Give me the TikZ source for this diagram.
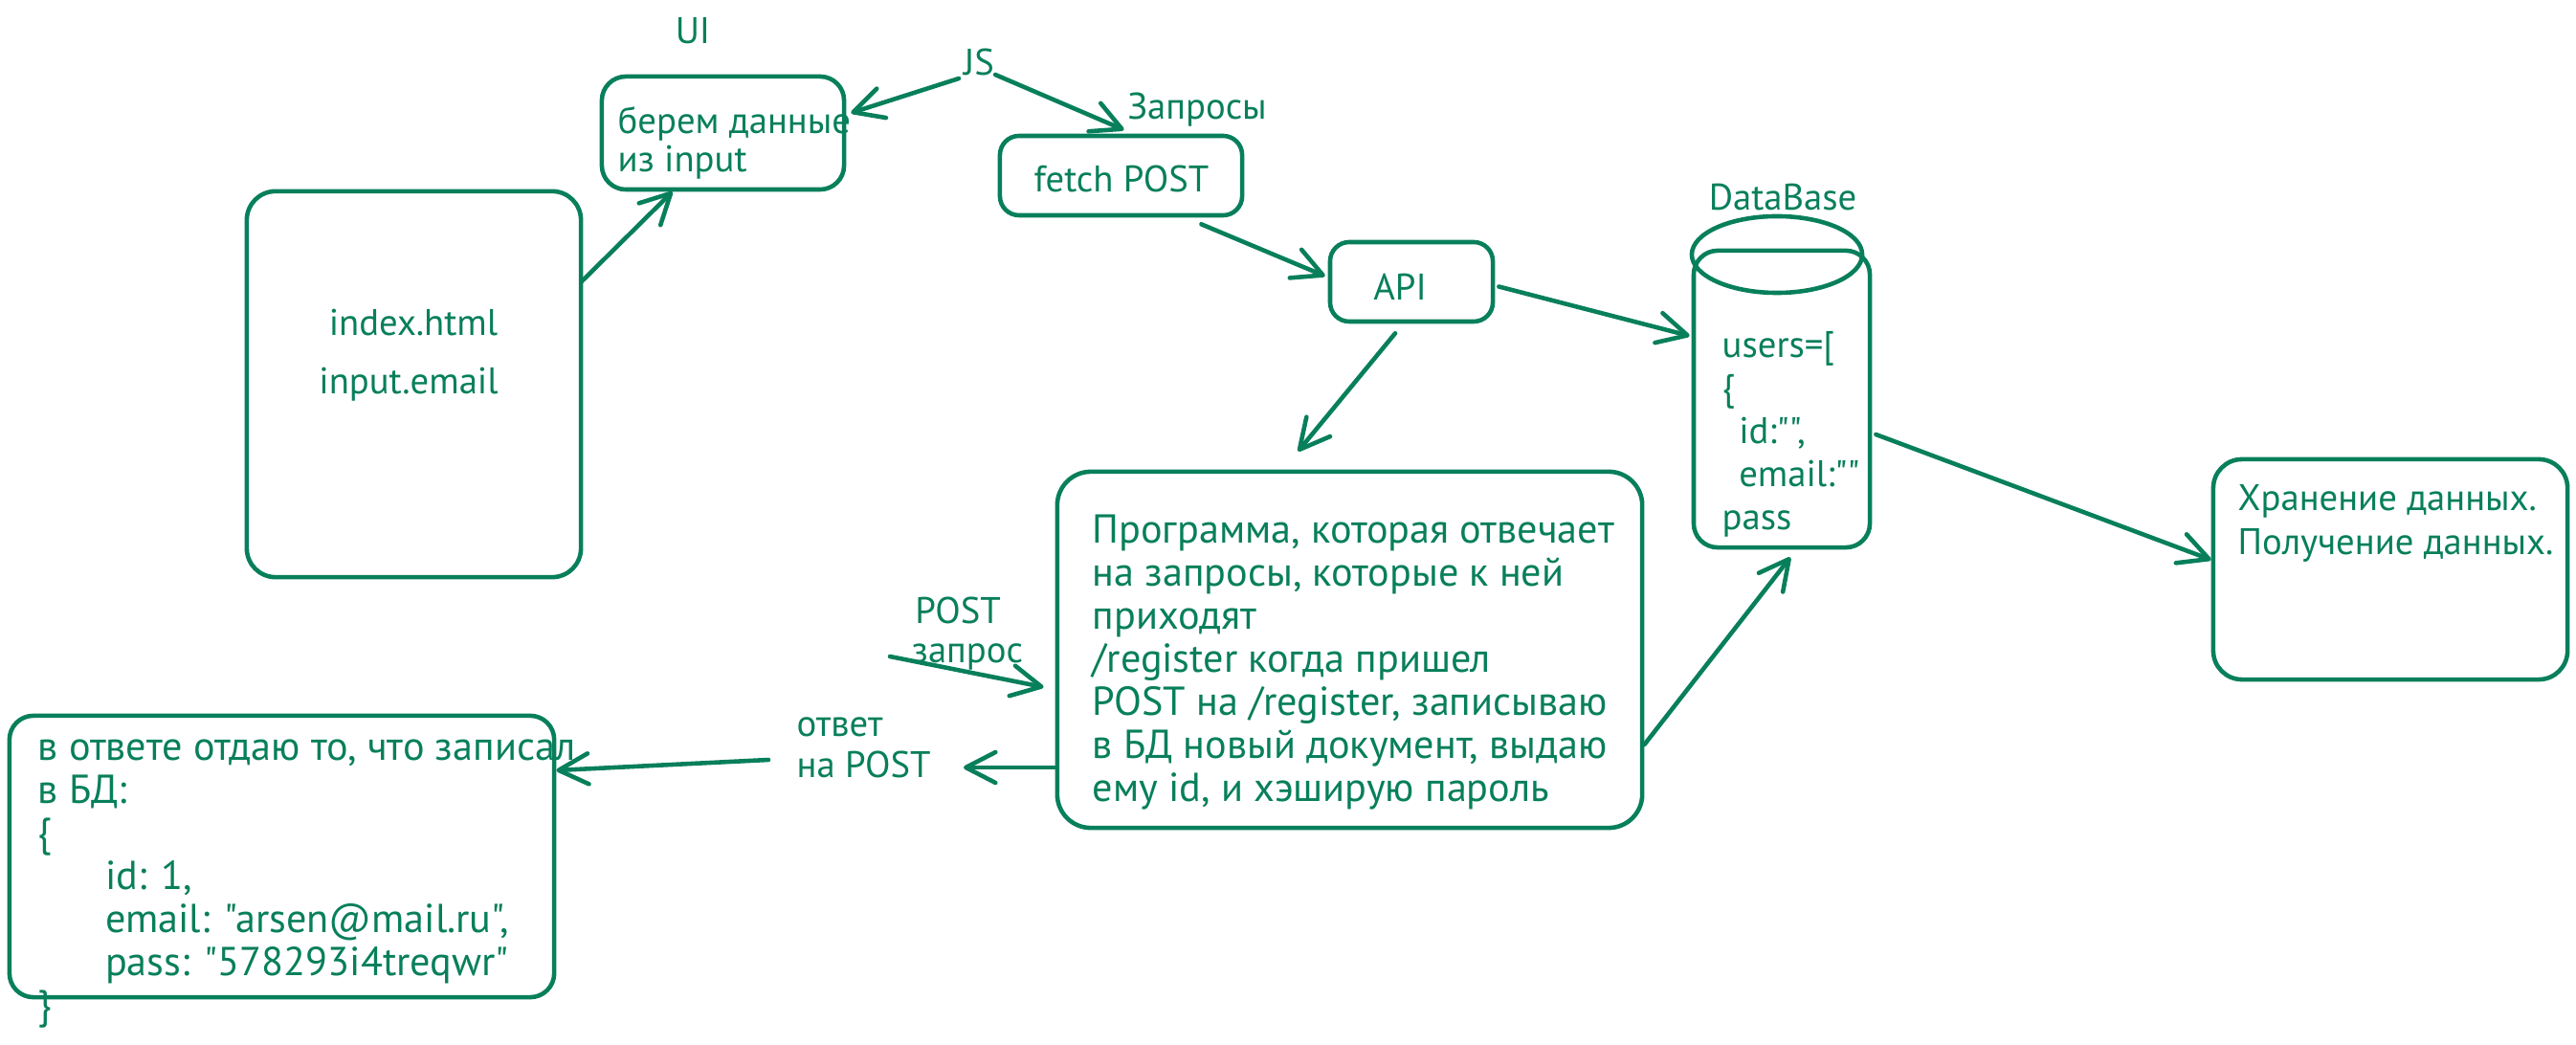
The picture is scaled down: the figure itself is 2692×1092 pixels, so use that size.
\documentclass[tikz,border=0pt]{standalone}
\usepackage{fontspec}
\setmainfont{PT Sans}[Ligatures=TeXOff]
\usepackage{tikz}
\usetikzlibrary{calc,arrows.meta,positioning,shapes.geometric}
\definecolor{exgreen}{RGB}{8,127,91}

\begin{document}
\begin{tikzpicture}[x=0.01cm,y=-0.01cm]

\tikzset{box/.style={draw=exgreen,line width=1.3pt,rounded corners=0.25cm,inner sep=0pt},
txt/.style={text=exgreen,inner sep=0pt,align=left,font=\fontsize{11}{12.8}\selectfont},
bigtxt/.style={txt,font=\fontsize{12}{12.8}\selectfont},
flow/.style={draw=exgreen,line width=1.3pt,line cap=round,-{Straight Barb[length=3.1mm,width=3.2mm,round]}}}

% Frame
\fill[white] (0,0) rectangle (2692,1092);
\useasboundingbox (0,0) rectangle (2692,1092);

% Boxes
\node[box,rounded corners=0.3cm,minimum width=3.49cm,minimum height=4.03cm] (index) at (432.5,401.5) {};
\node[box,minimum width=2.53cm,minimum height=1.18cm] (ui) at (755.5,139) {};
\node[box,rounded corners=0.2cm,minimum width=2.53cm,minimum height=0.83cm] (fetch) at (1171.5,183.5) {};
\node[box,rounded corners=0.2cm,minimum width=1.7cm,minimum height=0.83cm] (api) at (1475,294.5) {};
\node[box,rounded corners=0.35cm,minimum width=6.11cm,minimum height=3.72cm] (prog) at (1410.5,679) {};
\node[box,minimum width=5.69cm,minimum height=2.94cm] (reply) at (294.5,895) {};
\node[box,rounded corners=0.3cm,minimum width=3.7cm,minimum height=2.3cm] (store) at (2498,595) {};

% Database
\node[box,minimum width=1.84cm,minimum height=3.1cm] (db) at (1862,417) {};
\node[draw=exgreen,line width=1.3pt,ellipse,inner sep=0pt,minimum width=1.78cm,minimum height=0.8cm] (dbtop) at (1857,266) {};

% Texts
\node[txt] (indexhtml) at (432,337) {index.html};
\node[txt] (inputemail) at (427,402) {input.email};
\node[txt,anchor=north west,font=\fontsize{11}{11.4}\selectfont] (uitxt) at (645,111) {берем данные\\из input};
\node[txt] (fetchtxt) at (1172,187) {fetch POST};
\node[txt] (apitxt) at (1463,300) {API};
\node[txt,anchor=north west] (dbtxt) at (1799,346) {users=[\\\{\\\hspace*{5pt}id:"",\\\hspace*{5pt}email:""\\pass};
\node[bigtxt,anchor=north west] (progtxt) at (1141,537) {Программа, которая отвечает\\на запросы, которые к ней\\приходят\\/register когда пришел\\POST на /register, записываю\\в БД новый документ, выдаю\\ему id, и хэширую пароль};
\node[bigtxt,anchor=north west] (replytxt) at (39,772) {в ответе отдаю то, что записал\\в БД:\\\{\\\hspace*{20pt}id: 1,\\\hspace*{20pt}email: "arsen@mail.ru",\\\hspace*{20pt}pass: "578293i4treqwr"\\\}};
\node[txt,anchor=north west,font=\fontsize{11}{13}\selectfont] (storetxt) at (2338,506) {Хранение данных.\\Получение данных.};

% Labels
\node[txt] (uilbl) at (724,32) {UI};
\node[txt] (jslbl) at (1023,65) {JS};
\node[txt] (zaprosy) at (1251,115) {Запросы};
\node[txt] (dblbl) at (1863,206) {DataBase};
\node[txt] (postlbl) at (1001,638) {POST};
\node[txt] (zaproslbl) at (1011,686) {запрос};
\node[txt,anchor=north west,font=\fontsize{11}{12.2}\selectfont] (otvetlbl) at (832,749) {ответ\\на POST};

% Free ends
\coordinate (postsrc) at (930,686);
\coordinate (otvetR) at (1007,802);
\coordinate (otvetL) at (803,794);

% Arrows
\draw[flow] ($(index.north east)+(-2,97)$) -- ($(ui.south west)+(76,0)$);
\draw[flow] ($(jslbl)+(-21,17)$) -- ($(ui.east)+(5,-21)$);
\draw[flow] ($(jslbl)+(17,13)$) -- ($(fetch.north)+(3,-4)$);
\draw[flow] ($(fetch.south east)+(-45,7)$) -- ($(api.west)+(-3,-6)$);
\draw[flow] ($(api.east)+(4,5)$) -- ($(db.west)+(-2,-66)$);
\draw[flow] ($(api.south)+(-17,10)$) -- ($(prog.north)+(-54,-19)$);
\draw[flow] ($(prog.east)+(0,99)$) -- ($(db.south)+(9,8)$);
\draw[flow] ($(db.east)+(4,37)$) -- ($(store.west)+(0,-10)$);
\draw[flow] (postsrc) -- ($(prog.west)+(-12,39)$);
\draw[flow] ($(prog.west)+(0,123)$) -- (otvetR);
\draw[flow] (otvetL) -- ($(reply.east)+(0,-90)$);

\end{tikzpicture}
\end{document}
